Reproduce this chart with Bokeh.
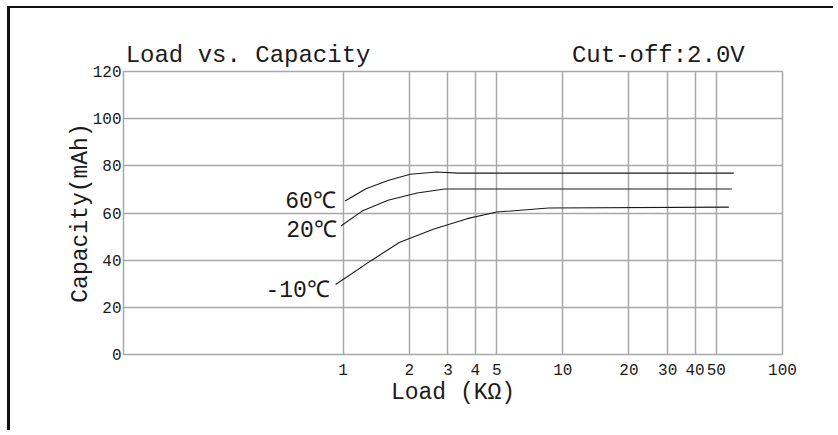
from bokeh.plotting import figure
from bokeh.models import FixedTicker, Label, LogAxis
from bokeh.embed import file_html
from bokeh.resources import INLINE

# ---- data ----
x_ticks = [1, 2, 3, 4, 5, 10, 20, 30, 40, 50, 100]
x_tick_labels = ["1", "2", "3", "4", "5", "10", "20", "30", "40", "50", "100"]
y_ticks = [0, 20, 40, 60, 80, 100, 120]
y_tick_labels = ["0", "20", "40", "60", "80", "100", "120"]

load_60 = [1.02, 1.27, 1.60, 2.02, 2.66, 3.35, 60.0]
cap_60 = [65.1, 70.3, 73.8, 76.4, 77.4, 76.9, 76.9]

load_20 = [0.976, 1.22, 1.60, 2.17, 2.90, 58.8]
cap_20 = [54.5, 60.8, 65.4, 68.5, 70.2, 70.2]

load_m10 = [0.924, 1.35, 1.80, 2.57, 3.67, 5.0, 8.61, 57.0]
cap_m10 = [29.7, 40.0, 47.5, 53.1, 57.6, 60.4, 62.1, 62.5]

series_names = ["60℃", "20℃", "-10℃"]

# header texts, centred over these load positions
header_texts = ["Load vs. Capacity", "Cut-off:2.0V"]
header_at = [0.369, 27.2]

FONT = "Liberation Mono"
INK = "#1a1a1a"
GRID = "#a8a8a8"

p = figure(width=826, height=424, x_axis_type="log", x_range=(0.1, 100), y_range=(0, 120),
           output_backend="svg", toolbar_location=None,
           min_border_left=113, min_border_right=54, min_border_top=63, min_border_bottom=78)
p.styles = {"margin-left": "7px", "margin-top": "6px",
            "border-top": "2px solid #111", "border-left": "3px solid #111"}
p.background_fill_color = "white"
p.border_fill_color = "white"
p.outline_line_color = GRID
p.outline_line_width = 1.5

bottom = p.below[0]
left = p.left[0]

xt = FixedTicker(ticks=x_ticks)
yt = FixedTicker(ticks=y_ticks)
bottom.ticker = xt
left.ticker = yt
p.xgrid.ticker = xt
p.ygrid.ticker = yt
bottom.major_label_overrides = {t: s for t, s in zip(x_ticks, x_tick_labels)}
left.major_label_overrides = {t: s for t, s in zip(y_ticks, y_tick_labels)}

for g in (p.xgrid, p.ygrid):
    g.grid_line_color = GRID
    g.grid_line_width = 1.5

# header row: an axis above the frame whose two labels are the chart's headings
top = LogAxis(ticker=FixedTicker(ticks=header_at),
              major_label_overrides={t: s for t, s in zip(header_at, header_texts)})
p.add_layout(top, "above")

for ax in (bottom, left, top):
    ax.axis_line_color = None
    ax.major_tick_line_color = None
    ax.minor_tick_line_color = None
    ax.major_tick_out = 0
    ax.major_tick_in = 0
    ax.major_label_text_font = FONT
    ax.major_label_text_font_size = "16px"
    ax.major_label_text_color = INK
    ax.axis_label_text_font = FONT
    ax.axis_label_text_font_size = "23px"
    ax.axis_label_text_font_style = "normal"
    ax.axis_label_text_color = INK

top.major_label_text_font_size = "24px"
top.major_label_standoff = 3

bottom.axis_label = "Load (KΩ)"
left.axis_label = "Capacity(mAh)"
bottom.major_label_standoff = 9
left.major_label_standoff = 2
bottom.axis_label_standoff = 2
left.axis_label_standoff = -4

for xs, ys in ((load_60, cap_60), (load_20, cap_20), (load_m10, cap_m10)):
    p.line(xs, ys, line_color=INK, line_width=1.1)

# curve labels (right aligned just left of each curve start)
label_pos = [(0.926, 64.7), (0.936, 52.5), (0.870, 27.0)]
for name, (lx, ly) in zip(series_names, label_pos):
    p.add_layout(Label(x=lx, y=ly, text=name, text_font=FONT, text_font_size="23px",
                       text_align="right", text_baseline="middle", text_color=INK))

open("out.html", "w").write(file_html(p, INLINE))
